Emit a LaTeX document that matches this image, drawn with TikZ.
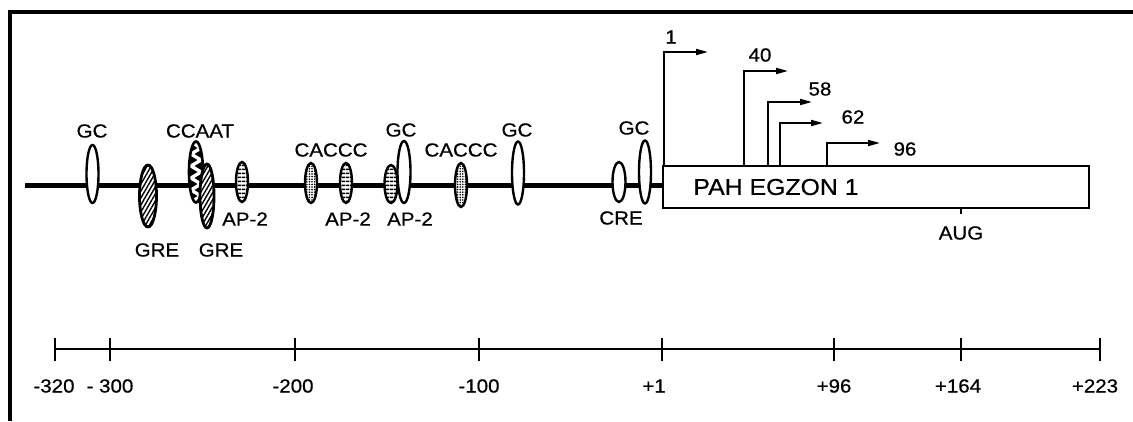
\documentclass[tikz,border=0pt]{standalone}
\usepackage{fontspec}
\setmainfont{Liberation Sans}[FakeStretch=1.08,FakeBold=0.6]
\usetikzlibrary{shapes.geometric,patterns.meta,arrows.meta}
\tikzset{
  el/.style={ellipse, draw, line width=2.4pt, fill=white, inner sep=0pt},
  gre/.style={ellipse, draw, line width=2.8pt, inner sep=0pt, preaction={fill=white},
    pattern={Lines[angle=60,distance=3.5pt,line width=1.4pt]}},
  ap/.style={ellipse, draw, line width=2.4pt, inner sep=0pt, preaction={fill=white},
    pattern={Lines[angle=0,distance=4pt,line width=1.8pt]}},
  caccc/.style={ellipse, draw, line width=2.4pt, inner sep=0pt, preaction={fill=white},
    pattern={Dots[distance=2.6pt,radius=0.9pt]}},
  lab/.style={font=\fontsize{19}{21}\selectfont, inner sep=0pt},
  mainline/.style={line width=5pt},
  tss/.style={line width=1.8pt, -{Triangle[length=12pt,width=6pt]}},
  axis/.style={line width=1.6pt},
  tick/.style={line width=2pt},
}
\begin{document}
\begin{tikzpicture}[x=1pt,y=-1pt]
\useasboundingbox (0,0) rectangle (1133,421);
% frame
\coordinate (fbl) at (10,421);
\coordinate (ftl) at (10,11.5);
\coordinate (ftr) at (1133,11.5);
\draw[line width=4pt] (fbl) -- (ftl) -- (ftr);

% exon box
\node[draw, line width=1.8pt, minimum width=426pt, minimum height=42pt, anchor=north west, inner sep=0pt] (box) at (662,165) {};
\node[font=\fontsize{23}{25}\selectfont, inner sep=0pt] (boxtext) at (776,187) {PAH EGZON 1};

% main line
\coordinate (lstart) at (25,185);
\draw[mainline] (lstart) -- (lstart -| box.west);

% elements
\node[el, minimum width=12pt, minimum height=58pt] (gc1) at (92.5,174) {};
\node[gre, minimum width=17pt, minimum height=62pt] (gre1) at (148,196) {};
\node[el, line width=2.6pt, minimum width=14pt, minimum height=61pt,
  path picture={
    \foreach \k in {-24,-12,0,12,24} {
      \fill[black] (path picture bounding box.center) ++(-7,{\k-5}) -- ++(8.5,5) -- ++(-8.5,5) -- cycle;
      \fill[black] (path picture bounding box.center) ++(7,{\k+1}) -- ++(-8.5,5) -- ++(8.5,5) -- cycle;
    }}] (ccaat) at (196,172) {};
\node[gre, minimum width=14pt, minimum height=64pt] (gre2) at (207,196) {};
\node[ap, minimum width=12pt, minimum height=40pt] (ap1) at (242,182) {};
\node[caccc, minimum width=12pt, minimum height=40pt] (caccc1) at (311,183) {};
\node[ap, minimum width=12pt, minimum height=40pt] (ap2) at (346,183) {};
\node[ap, minimum width=13pt, minimum height=38pt] (ap3) at (391,184) {};
\node[el, minimum width=13pt, minimum height=62pt] (gc2) at (404,172) {};
\node[caccc, minimum width=12pt, minimum height=44pt] (caccc2) at (461,185) {};
\node[el, minimum width=12pt, minimum height=63pt] (gc3) at (518,173) {};
\node[el, minimum width=13pt, minimum height=40pt] (cre) at (619,182) {};
\node[el, minimum width=12pt, minimum height=63pt] (gc4) at (645,172) {};

% element labels
\node[lab] (lgc1) at (92,131) {GC};
\node[lab] (lgre1) at (157,250) {GRE};
\node[lab] (lccaat) at (200,131) {CCAAT};
\node[lab] (lgre2) at (221,250) {GRE};
\node[lab] (lap1) at (245,219) {AP-2};
\node[lab] (lcaccc1) at (331,150) {CACCC};
\node[lab] (lap2) at (348,219) {AP-2};
\node[lab] (lap3) at (410,219) {AP-2};
\node[lab] (lgc2) at (401,130) {GC};
\node[lab] (lcaccc2) at (461,150) {CACCC};
\node[lab] (lgc3) at (517,130) {GC};
\node[lab] (lcre) at (621,218) {CRE};
\node[lab] (lgc4) at (634,128) {GC};

% transcription start sites
\coordinate (t1) at (664,52);   \coordinate (t1e) at (708,52);
\coordinate (t40) at (744,71);  \coordinate (t40e) at (788,71);
\coordinate (t58) at (768,102); \coordinate (t58e) at (812,102);
\coordinate (t62) at (780,123); \coordinate (t62e) at (823,123);
\coordinate (t96) at (827,143); \coordinate (t96e) at (880,143);
\draw[tss] (box.north -| t1) |- (t1e);
\draw[tss] (box.north -| t40) |- (t40e);
\draw[tss] (box.north -| t58) |- (t58e);
\draw[tss] (box.north -| t62) |- (t62e);
\draw[tss] (box.north -| t96) |- (t96e);
\node[lab] (l1) at (671,37) {1};
\node[lab] (l40) at (760,55) {40};
\node[lab] (l58) at (820,89) {58};
\node[lab] (l62) at (853,117) {62};
\node[lab] (l96) at (905,149) {96};

% AUG
\coordinate (aug) at (961,214);
\draw[line width=1.5pt] (box.south -| aug) -- (aug);
\node[lab] (laug) at (961,233) {AUG};

% scale
\coordinate (a320) at (55,349);
\coordinate (a300) at (110,349);
\coordinate (a200) at (295,349);
\coordinate (a100) at (479,349);
\coordinate (a1) at (662,349);
\coordinate (a96) at (834,349);
\coordinate (a164) at (961,349);
\coordinate (a223) at (1100,349);
\draw[axis] (a320) -- (a223);
\foreach \c in {a320,a300,a200,a100,a1,a96,a164,a223}
  \draw[tick] (\c) ++(0,-11) -- ++(0,23);
\node[lab] (s320) at (54,386) {-320};
\node[lab] (s300) at (110,386) {- 300};
\node[lab] (s200) at (293,386) {-200};
\node[lab] (s100) at (479,386) {-100};
\node[lab] (s1) at (654,386) {+1};
\node[lab] (s96) at (834,386) {+96};
\node[lab] (s164) at (958,386) {+164};
\node[lab] (s223) at (1095,386) {+223};
\end{tikzpicture}
\end{document}
